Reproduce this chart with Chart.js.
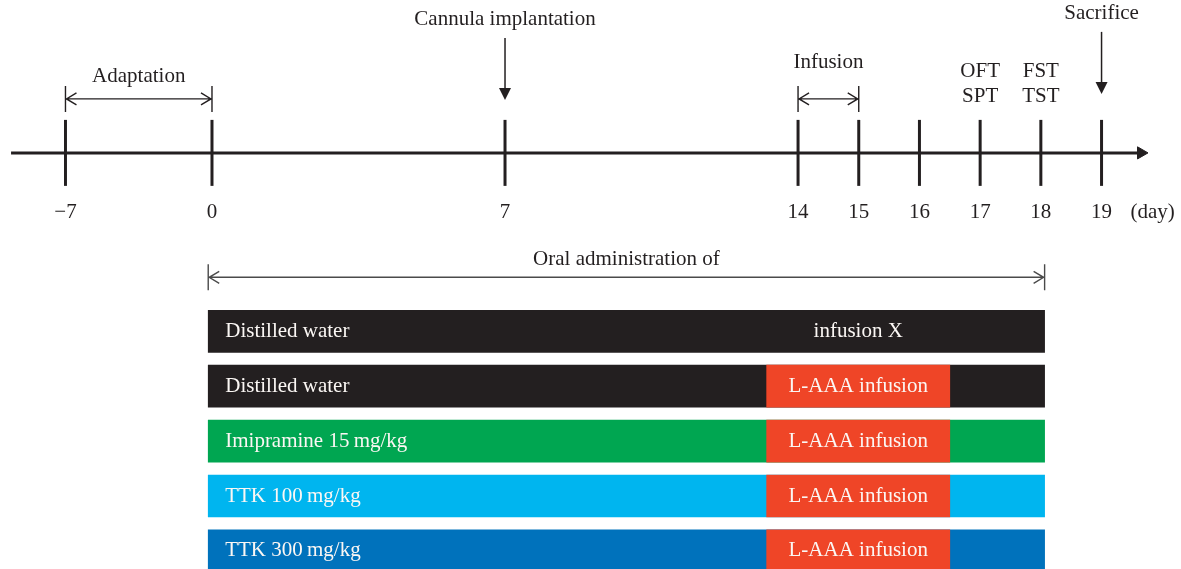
<!DOCTYPE html>
<html>
<head>
<meta charset="utf-8">
<script src="https://cdn.jsdelivr.net/npm/chart.js@4.4.0/dist/chart.umd.min.js"></script>
<style>
  html, body { margin: 0; padding: 0; background: #fff; }
</style>
</head>
<body>
<canvas id="timeline" width="1181" height="569"></canvas>
<script>
// days marked on the timeline
var days = [-7, 0, 7, 14, 15, 16, 17, 18, 19]
var dayLabels = ['\u22127', '0', '7', '14', '15', '16', '17', '18', '19']

// treatment groups (one bar each)
var groupLabels = ['Distilled water', 'Distilled water', 'Imipramine 15\u2009mg/kg', 'TTK 100\u2009mg/kg', 'TTK 300\u2009mg/kg']
var groupColors = ['#231F20', '#231F20', '#00A651', '#00B5EF', '#0072BC']
var infusionLabels = ['infusion X', 'L-AAA infusion', 'L-AAA infusion', 'L-AAA infusion', 'L-AAA infusion']
var infusionBoxShown = [false, true, true, true, true]

// spans, in days
var oralSpan = [0, 18]
var infusionBox = [13.25, 16.5]
var adaptationSpan = [-7, 0]
var infusionSpan = [14, 15]
var timelineSpan = [-9.6, 19.65]

// events above the line
var eventDays = [7, 19]
var eventLabels = ['Cannula implantation', 'Sacrifice']
var testDays = [17, 18]
var testLabels = [['OFT', 'SPT'], ['FST', 'TST']]

// the original stretches the day axis unevenly
function axisPos(d) {
  if (d < 0) return d * 0.5
  if (d <= 14) return d
  return 14 + (d - 14) * 1.45
}

var TIMELINE_Y = -3.25
var BAR_PAD = 0.09
var ink = '#231F20'
var serif = '"Liberation Serif", "Times New Roman", serif'

var backBars = groupLabels.map(function (g, i) {
  return { x: [axisPos(oralSpan[0]) - BAR_PAD, axisPos(oralSpan[1]) + BAR_PAD], y: i }
})
var redBars = []
infusionBoxShown.forEach(function (shown, i) {
  if (shown) redBars.push({ x: [axisPos(infusionBox[0]), axisPos(infusionBox[1])], y: i })
})

function dimArrow(c, x1, x2, y, color) {
  c.save()
  c.strokeStyle = color
  c.lineWidth = 1.4
  c.beginPath()
  c.moveTo(x1, y); c.lineTo(x2, y)
  c.moveTo(x1, y - 13); c.lineTo(x1, y + 13)
  c.moveTo(x2, y - 13); c.lineTo(x2, y + 13)
  c.moveTo(x1 + 11, y - 6); c.lineTo(x1 + 1, y); c.lineTo(x1 + 11, y + 6)
  c.moveTo(x2 - 11, y - 6); c.lineTo(x2 - 1, y); c.lineTo(x2 - 11, y + 6)
  c.stroke()
  c.restore()
}

function downArrow(c, x, y1, y2) {
  c.save()
  c.strokeStyle = ink
  c.fillStyle = ink
  c.lineWidth = 1.5
  c.beginPath()
  c.moveTo(x, y1); c.lineTo(x, y2 - 10)
  c.stroke()
  c.beginPath()
  c.moveTo(x - 6, y2 - 12); c.lineTo(x + 6, y2 - 12); c.lineTo(x, y2)
  c.closePath()
  c.fill()
  c.restore()
}

var annotations = {
  id: 'annotations',
  afterDatasetsDraw: function (chart) {
    var c = chart.ctx
    var xs = chart.scales.x, ys = chart.scales.y
    var px = function (d) { return xs.getPixelForValue(axisPos(d)) }
    var lineY = ys.getPixelForValue(TIMELINE_Y)
    c.save()
    c.font = '21px ' + serif
    c.textBaseline = 'middle'
    c.textAlign = 'center'
    c.fillStyle = ink

    // day labels
    days.forEach(function (d, i) {
      c.fillText(dayLabels[i], px(d), lineY + 60)
    })
    c.fillText('(day)', px(19) + 51, lineY + 60)

    // adaptation / infusion spans
    dimArrow(c, px(adaptationSpan[0]), px(adaptationSpan[1]), lineY - 54, ink)
    c.fillText('Adaptation', (px(adaptationSpan[0]) + px(adaptationSpan[1])) / 2, lineY - 76)
    dimArrow(c, px(infusionSpan[0]), px(infusionSpan[1]), lineY - 54, ink)
    c.fillText('Infusion', (px(infusionSpan[0]) + px(infusionSpan[1])) / 2, lineY - 90)

    // events
    eventDays.forEach(function (d, i) {
      var x = px(d)
      var top = i === 0 ? lineY - 115 : lineY - 121
      downArrow(c, x, top, top + 62)
      c.fillText(eventLabels[i], x, top - 18)
    })

    // tests
    testDays.forEach(function (d, i) {
      c.fillText(testLabels[i][0], px(d), lineY - 81)
      c.fillText(testLabels[i][1], px(d), lineY - 56)
    })

    // oral administration
    var row0 = ys.getPixelForValue(0)
    var ox1 = xs.getPixelForValue(axisPos(oralSpan[0]) - BAR_PAD)
    var ox2 = xs.getPixelForValue(axisPos(oralSpan[1]) + BAR_PAD)
    dimArrow(c, ox1, ox2, row0 - 54, '#4a4a4a')
    c.fillStyle = ink
    c.fillText('Oral administration of', (ox1 + ox2) / 2, row0 - 72)

    // text inside the bars
    c.fillStyle = '#fbf7f4'
    groupLabels.forEach(function (g, i) {
      var y = ys.getPixelForValue(i)
      c.textAlign = 'left'
      c.fillText(g, ox1 + 17, y)
      c.textAlign = 'center'
      c.fillText(infusionLabels[i], (px(infusionBox[0]) + px(infusionBox[1])) / 2, y)
    })
    c.restore()
  }
}

var ctx = document.getElementById('timeline')
new Chart(ctx, {
  type: 'bar',
  data: {
    datasets: [
      {
        type: 'bar',
        indexAxis: 'y',
        order: 1,
        data: redBars,
        backgroundColor: '#EF4527',
        barThickness: 42,
        grouped: false,
      },
      {
        type: 'bar',
        indexAxis: 'y',
        order: 2,
        data: backBars,
        backgroundColor: groupColors,
        barThickness: 42,
        grouped: false,
      },
      {
        type: 'line',
        order: 3,
        data: [
          { x: axisPos(timelineSpan[0]), y: TIMELINE_Y },
          { x: axisPos(timelineSpan[1]), y: TIMELINE_Y },
        ],
        borderColor: ink,
        borderWidth: 3,
        pointRadius: 0,
      },
      {
        type: 'scatter',
        order: 0,
        data: days.map(function (d) { return { x: axisPos(d), y: TIMELINE_Y } }),
        pointStyle: 'line',
        pointRotation: 90,
        pointRadius: 33,
        pointBorderWidth: 3,
        pointBorderColor: ink,
        borderColor: ink,
      },
      {
        type: 'scatter',
        order: 0,
        data: [{ x: axisPos(timelineSpan[1]), y: TIMELINE_Y }],
        pointStyle: 'triangle',
        pointRotation: 90,
        pointRadius: 7,
        pointBorderWidth: 1,
        pointBackgroundColor: ink,
        pointBorderColor: ink,
      },
    ],
  },
  options: {
    responsive: false,
    animation: false,
    events: [],
    layout: { padding: 0, autoPadding: false },
    plugins: {
      legend: { display: false },
      tooltip: { enabled: false },
    },
    scales: {
      x: { type: 'linear', min: -5.064, max: 23.148, display: false, offset: false, grid: { offset: false } },
      y: { type: 'linear', min: -6.035, max: 4.33, reverse: true, display: false, offset: false, beginAtZero: false, grid: { offset: false } },
    },
  },
  plugins: [annotations],
})
</script>
</body>
</html>
